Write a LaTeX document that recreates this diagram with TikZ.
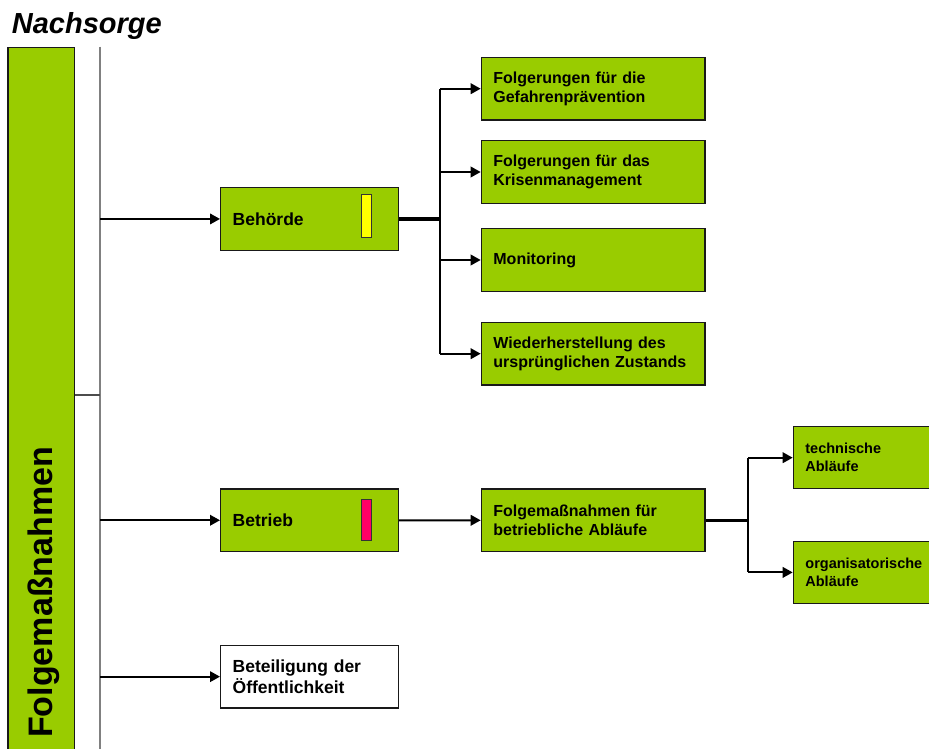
\documentclass[tikz,border=0pt]{standalone}
\usepackage{fontspec}
\setmainfont{Liberation Sans}
\usetikzlibrary{arrows.meta}
\definecolor{boxgreen}{HTML}{99CC00}
\definecolor{markyellow}{HTML}{FFFF00}
\definecolor{markred}{HTML}{FF0066}
\definecolor{linegray}{HTML}{808080}
\begin{document}
\begin{tikzpicture}[x=1pt,y=-1pt,
  box/.style={draw=black!90, line width=1.4pt, fill=boxgreen, anchor=north west, inner xsep=12pt, inner ysep=0pt, align=left},
  lbox/.style={box, text width=153.7pt, minimum height=62.5pt, font=\fontsize{17.5}{20.5}\selectfont\bfseries},
  rbox/.style={box, text width=199.6pt, minimum height=62.6pt, font=\fontsize{16}{18.4}\selectfont\bfseries},
  cbox/.style={box, text width=183.3pt, minimum height=62pt, font=\fontsize{14.5}{18}\selectfont\bfseries},
  marker/.style={draw=black!80, line width=0.9pt, minimum width=10.7pt, minimum height=43pt, inner sep=0pt},
  arr/.style={line width=2pt, -{Triangle[length=10pt,width=10.5pt]}},
  thickline/.style={line width=3.6pt},
  midline/.style={line width=2.6pt}
]
\useasboundingbox (0,0) rectangle (929,749);
\clip (0,0) rectangle (929,749);

% title
\node[anchor=base west, inner sep=0pt, font=\fontsize{29}{30}\selectfont\bfseries\itshape] (title) at (11.7,33.3) {Nachsorge};

% left bar
\node[draw=black!90, line width=1.4pt, fill=boxgreen, anchor=north west, minimum width=66.7pt, minimum height=720pt, inner sep=0pt] (bar) at (7.3,46.7) {};
\node[rotate=90, anchor=base west, inner sep=0pt, font=\fontsize{34}{36}\selectfont\bfseries] (bartext) at (52,738) {Folgemaßnahmen};

% spine
\coordinate (spinetop) at (100,46.7);
\coordinate (spinebot) at (100,760);
\draw[linegray, line width=1.1pt] (spinetop) -- (spinebot);
\coordinate (tick) at (100,395);
\draw[black!70, line width=1.1pt] (bar.east |- tick) -- (tick);

% level 1 boxes
\node[lbox] (beh) at (220,187) {Behörde};
\node[marker, fill=markyellow] (mk1) at (366.3,215.5) {};
\node[lbox, minimum height=62.5pt] (bet) at (220,488.3) {Betrieb};
\node[marker, fill=markred, minimum height=41.7pt] (mk2) at (366.3,520) {};
\node[lbox, fill=white] (oef) at (220,644.7) {Beteiligung der\\Öffentlichkeit};

% level 2 boxes
\node[rbox] (r1) at (480.7,56.7) {Folgerungen für die\\Gefahrenprävention};
\node[rbox] (r2) at (480.7,140) {Folgerungen für das\\Krisenmanagement};
\node[rbox] (r3) at (480.7,228) {Monitoring};
\node[rbox] (r4) at (480.7,321.7) {Wiederherstellung des\\ursprünglichen Zustands};
\node[rbox] (fm) at (480.7,488.3) {Folgemaßnahmen für\\betriebliche Abläufe};

% level 3 boxes
\node[cbox] (c1) at (792.7,426) {technische\\Abläufe};
\node[cbox] (c2) at (792.7,540.7) {organisatorische\\Abläufe};

% spine arrows
\draw[arr] (spinetop |- beh.west) -- (beh.west);
\draw[arr] (spinetop |- bet.west) -- (bet.west);
\draw[arr] (spinetop |- oef.west) -- (oef.west);

% Behörde branch
\coordinate (bj) at (440,0);
\draw[thickline] (beh.east) -- (beh.east -| bj);
\draw[midline] (bj |- r1.west) -- (bj |- r4.west);
\draw[arr] (bj |- r1.west) -- (r1.west);
\draw[arr] (bj |- r2.west) -- (r2.west);
\draw[arr] (bj |- r3.west) -- (r3.west);
\draw[arr] (bj |- r4.west) -- (r4.west);

% Betrieb branch
\draw[arr] (bet.east) -- (fm.west);
\coordinate (fj) at (748,0);
\draw[thickline] (fm.east) -- (fm.east -| fj);
\draw[midline] (fj |- c1.west) -- (fj |- c2.west);
\draw[arr] (fj |- c1.west) -- (c1.west);
\draw[arr] (fj |- c2.west) -- (c2.west);
\end{tikzpicture}
\end{document}
